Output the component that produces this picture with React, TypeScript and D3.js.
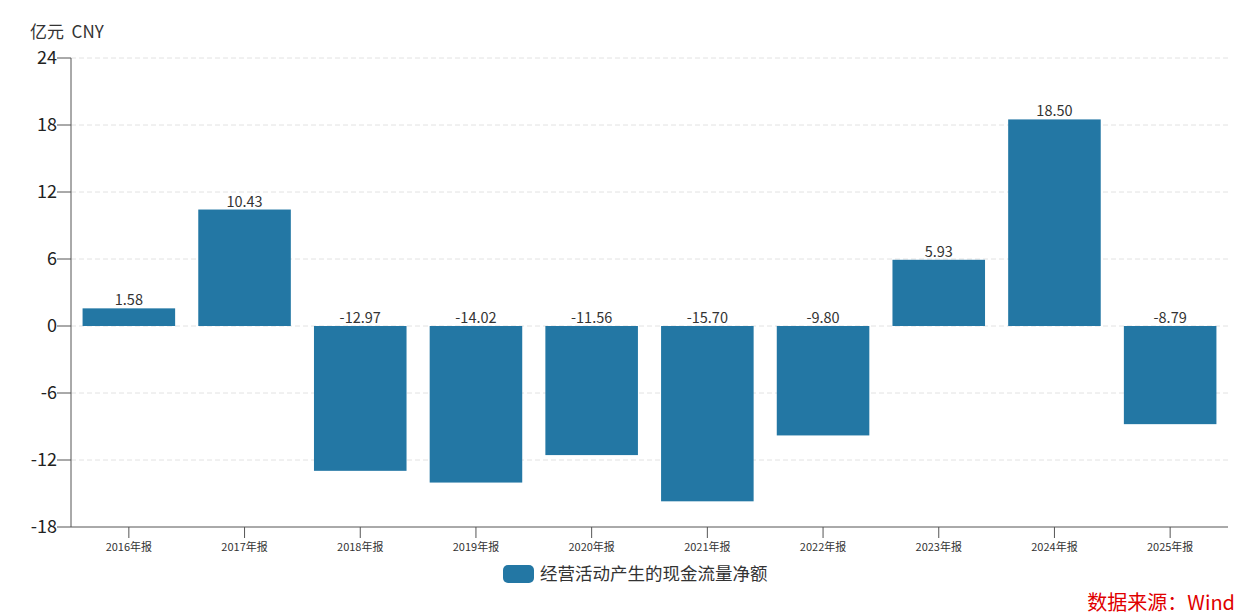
import React from "react";
import * as d3 from "d3";

const categories = ["2016年报","2017年报","2018年报","2019年报","2020年报","2021年报","2022年报","2023年报","2024年报","2025年报"];
const values = [1.58, 10.43, -12.97, -14.02, -11.56, -15.7, -9.8, 5.93, 18.5, -8.79];
const yTicks = [-18, -12, -6, 0, 6, 12, 18, 24];
const seriesName = "经营活动产生的现金流量净额";
const unitLabel = "亿元  CNY";
const sourceLabel = "数据来源：Wind";

const W = 1235, H = 616;
const m = { left: 71, right: 1228, top: 58, bottom: 527 };
const FONT = "'Noto Sans CJK SC', 'Noto Sans', sans-serif";
const BAR = "#2377a4";

export default function App() {
  const x = d3.scaleBand<string>().domain(categories).range([m.left, m.right]).paddingInner(0.2).paddingOuter(0.1);
  const y = d3.scaleLinear().domain([-18, 24]).range([m.bottom, m.top]);
  const y0 = y(0);
  return (
    <svg width={W} height={H} style={{ position: "absolute", left: 0, top: 0, fontFamily: FONT }}>
      <text x={30} y={38} fontSize={17} fill="#333" style={{ whiteSpace: "pre" }}>{unitLabel}</text>
      {yTicks.map((t) => (
        <g key={t}>
          {t !== -18 && (
            <line x1={m.left} x2={m.right} y1={y(t)} y2={y(t)} stroke="#e2e2e2" strokeDasharray="5,3" />
          )}
          <line x1={57} x2={m.left} y1={y(t)} y2={y(t)} stroke="#555" />
          <text x={57} y={y(t)} dy="0.35em" textAnchor="end" fontSize={18} fill="#222">{t}</text>
        </g>
      ))}
      {categories.map((c, i) => {
        const v = values[i];
        const bx = x(c)!;
        const top = Math.min(y(v), y0);
        const h = Math.abs(y(v) - y0);
        const labelY = v >= 0 ? y(v) - 3 : y0 - 3;
        return (
          <g key={c}>
            <rect x={bx} y={top} width={x.bandwidth()} height={h} fill={BAR} />
            <text x={bx + x.bandwidth() / 2} y={labelY} textAnchor="middle" fontSize={14.5} fill="#333">{v.toFixed(2)}</text>
          </g>
        );
      })}
      <line x1={m.left} x2={m.left} y1={m.top} y2={m.bottom} stroke="#555" />
      <line x1={m.left} x2={m.right} y1={m.bottom} y2={m.bottom} stroke="#555" />
      {categories.map((c) => {
        const cx = x(c)! + x.bandwidth() / 2;
        return (
          <g key={"t" + c}>
            <line x1={cx} x2={cx} y1={m.bottom} y2={m.bottom + 11} stroke="#555" />
            <text x={cx} y={551} textAnchor="middle" fontSize={11} fill="#333">{c}</text>
          </g>
        );
      })}
      <rect x={503} y={565} width={31} height={18} rx={5} fill={BAR} />
      <text x={540} y={580} fontSize={17.5} fill="#333">{seriesName}</text>
      <text x={1235} y={610} textAnchor="end" fontSize={20} fill="#e00000">{sourceLabel}</text>
    </svg>
  );
}
